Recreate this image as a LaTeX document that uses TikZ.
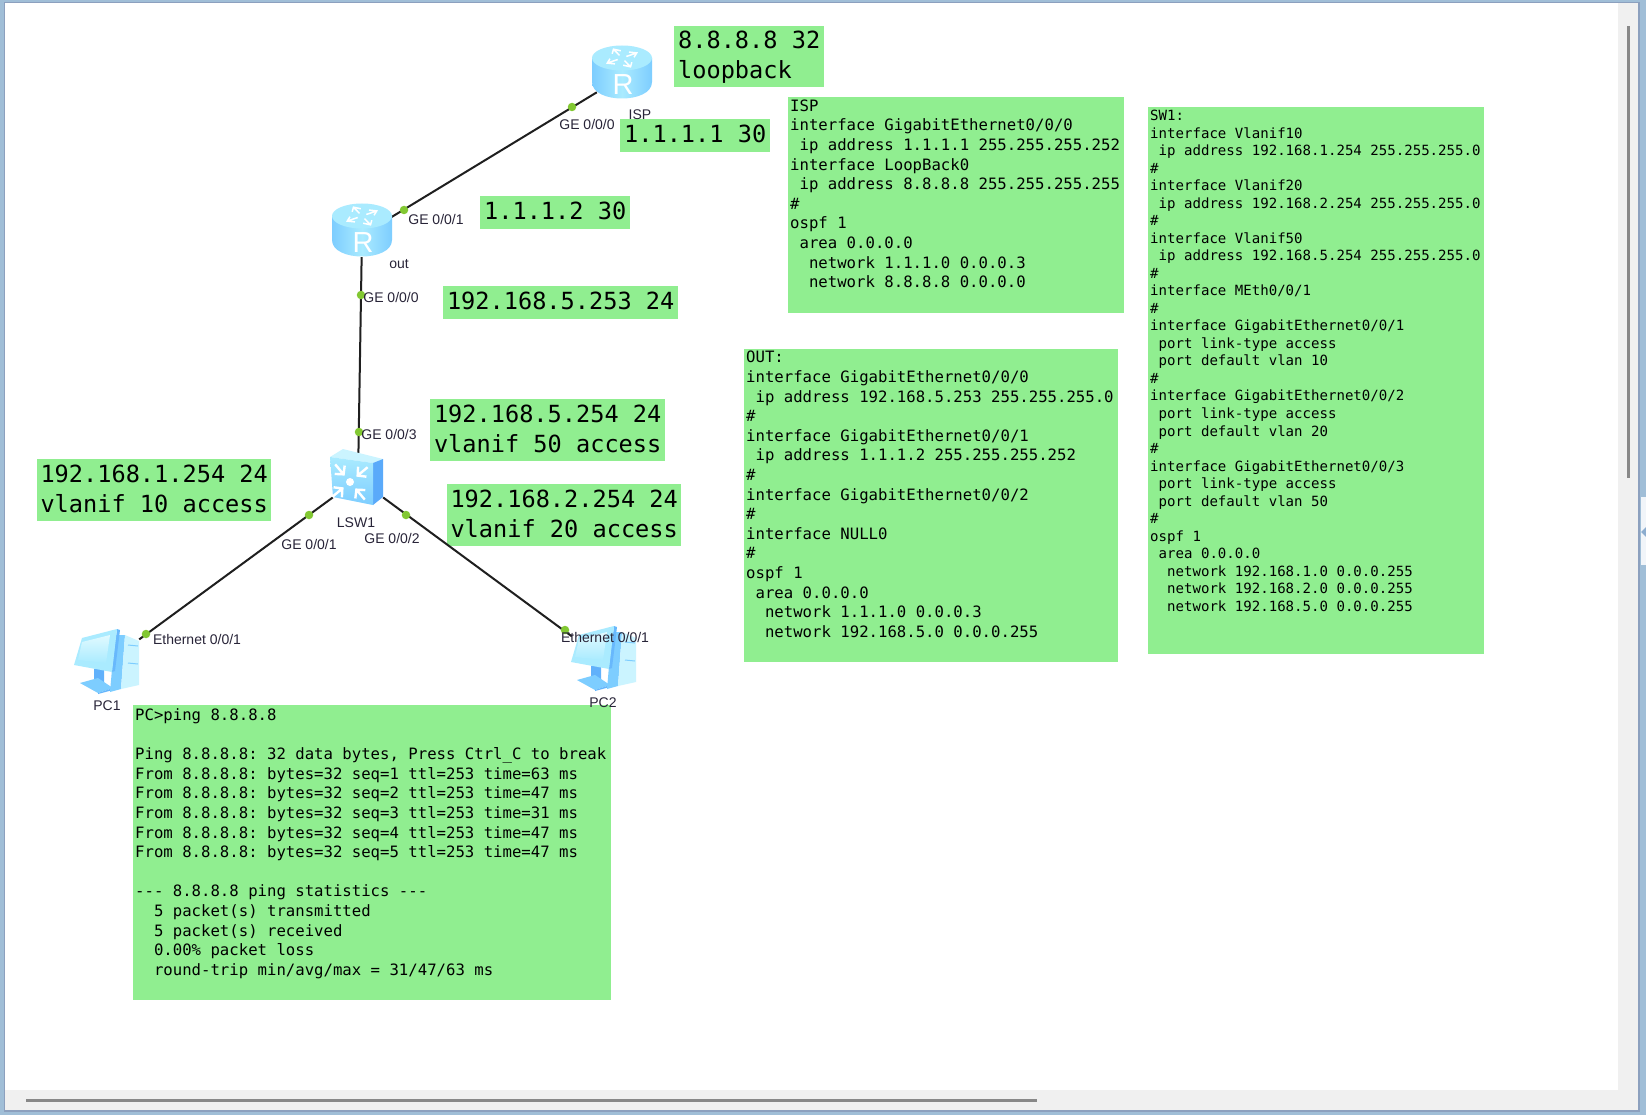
\documentclass[tikz,border=0pt]{standalone}
\usepackage{fontspec}
\setmainfont{Liberation Sans}
\setmonofont{DejaVu Sans Mono}
\usetikzlibrary{positioning, shadings}
\definecolor{ensA}{RGB}{144,238,144}
\definecolor{ensFrame}{RGB}{160,190,215}
\definecolor{ensEdge}{RGB}{140,160,190}
\definecolor{ensBar}{RGB}{240,240,240}
\definecolor{ensThumb}{RGB}{136,136,136}
\definecolor{ensPort}{RGB}{130,200,50}
\definecolor{ensB}{RGB}{125,205,255}
\definecolor{ensC}{RGB}{170,235,255}
\definecolor{ensD}{RGB}{90,170,250}
\definecolor{ensE}{RGB}{225,250,255}
\definecolor{ensLab}{RGB}{40,36,56}
\newcommand{\cfgpar}[3]{\parbox[t][#2pt][t]{#1pt}{#3}}
\newcommand{\ind}[1]{\hspace*{#1\fontcharwd\font`0}}
\tikzset{
  routericon/.pic={
    \shade[left color=ensB, right color=ensB, middle color=ensC]
      (-30,-14) -- (-30,10) .. controls (-30,32) and (30,32) .. (30,10) -- (30,-14) -- cycle;
    \fill[ensC] (0,-14) ellipse [x radius=30pt, y radius=12.5pt];
    \foreach \a in {30,120,210,300}
      \draw[white, line width=1.5pt, shift={(0,-14)}, yscale=0.6, rotate=\a] (5,0) -- (17,0) (11,-5) -- (17,0) -- (11,5);
    \node[white, font=\fontsize{29}{29}\selectfont, inner sep=0pt] (-glyph) at (1,13) {R};
  },
  switchicon/.pic={
    \fill[ensE!60!ensC] (-26,-21) -- (-13,-29) -- (27,-19) -- (17,-15) -- cycle;
    \fill[ensD] (17,-15) -- (27,-19) -- (27,19) -- (17,27) -- cycle;
    \shade[top color=ensC, bottom color=ensB] (-26,-21) -- (17,-15) -- (17,27) -- (-23,19) -- cycle;
    \fill[white] (-6,4) circle [radius=4pt];
    \foreach \a in {40,130,220,310}
      \draw[white, line width=2.4pt, shift={(-6,4)}, rotate=\a] (23,0) -- (10,0) (16,-6.5) -- (10,0) -- (16,6.5);
  },
  pcicon/.pic={
    \fill[ensD!80!ensB] (-13,8) -- (-3,8) -- (-3,22) -- (-13,21) -- cycle;
    \fill[ensB] (-27,22) -- (-9,17) -- (6,27) -- (-9,32) -- cycle;
    \fill[ensD!70!ensB] (-9,32) -- (6,27) -- (6,29) -- (-9,33) -- cycle;
    \fill[ensB] (8,-26) -- (18,-26) -- (14,28) -- (3,31) -- cycle;
    \fill[ensE!60!ensC] (18,-26) -- (32,-20) -- (32,24) -- (14,28) -- cycle;
    \draw[ensB, line width=1pt] (21,-16) -- (31,-15) (21,2) -- (31,3);
    \fill[ensD!60!ensB] (10,-32) -- (13,-31) -- (8,10) -- (5,11) -- cycle;
    \fill[ensC] (-25,-23) -- (10,-32) -- (5,11) -- (-33,4) -- cycle;
    \shade[top color=ensE, bottom color=ensC] (-25,-19) -- (3,-26) -- (-1,2) -- (-29,-1) -- cycle;
  }
}
\begin{document}
\begin{tikzpicture}[
    x=1pt, y=-1pt,
    netnode/.style={minimum width=50pt, minimum height=44pt, inner sep=0pt},
    link/.style={line width=2pt, black!88},
    port/.style={circle, fill=ensPort, inner sep=0pt, minimum size=8.5pt},
    lab/.style={font=\fontsize{14}{14}\selectfont, text=ensLab, inner sep=0pt},
    bigbox/.style={fill=ensA, anchor=north west, inner sep=0pt, align=left, text depth=3pt, font=\ttfamily\fontsize{23.6}{30}\selectfont},
    cfgbox/.style={fill=ensA, anchor=north west, inner sep=2pt, font=\ttfamily\fontsize{15.65}{19.6}\selectfont}
  ]
  \useasboundingbox (0,0) rectangle (1646,1115);
  % window
  \fill[ensFrame] (0,0) rectangle (1646,1115);
  \fill[ensEdge] (4,2) rectangle (1640,1112);
  \fill[ensBar] (5,3) rectangle (1638,1110);
  \fill[white] (5,3) rectangle (1618,1090);
  \fill[ensThumb] (26,1098.5) rectangle (1037,1101.5);
  \fill[ensThumb] (1626.5,26) rectangle (1629.5,478);
  \fill[white!85!ensFrame] (1641,497) rectangle (1646,565);
  \fill[ensD!70!black!60] (1641,532) -- (1646,527) -- (1646,537) -- cycle;

  % address notes
  \node[bigbox, minimum width=150pt, minimum height=61pt] (bLoop) at (674,26) {8.8.8.8 32\\loopback};
  \node[bigbox, minimum width=150pt, minimum height=33pt] (bIsp) at (620,119) {1.1.1.1 30};
  \node[bigbox, minimum width=150pt, minimum height=33pt] (bOutA) at (480,196) {1.1.1.2 30};
  \node[bigbox, minimum width=235pt, minimum height=33pt] (bOutB) at (443,286) {192.168.5.253 24};
  \node[bigbox, minimum width=235pt, minimum height=62pt] (bVfifty) at (430,399) {192.168.5.254 24\\vlanif 50 access};
  \node[bigbox, minimum width=234pt, minimum height=62pt] (bVten) at (37,459) {192.168.1.254 24\\vlanif 10 access};
  \node[bigbox, minimum width=234pt, minimum height=62pt] (bVtwenty) at (447,484) {192.168.2.254 24\\vlanif 20 access};

  % device configs
  \node[cfgbox] (cISP) at (788,97) {\cfgpar{332}{212}{\vspace*{0.5pt}ISP\\
interface GigabitEthernet0/0/0\\
\ind{1}ip address 1.1.1.1 255.255.255.252\\
interface LoopBack0\\
\ind{1}ip address 8.8.8.8 255.255.255.255\\
\#\\
ospf 1\\
\ind{1}area 0.0.0.0\\
\ind{2}network 1.1.1.0 0.0.0.3\\
\ind{2}network 8.8.8.8 0.0.0.0}};
  \node[cfgbox] (cOUT) at (744,349) {\cfgpar{370}{309}{OUT:\\
interface GigabitEthernet0/0/0\\
\ind{1}ip address 192.168.5.253 255.255.255.0\\
\#\\
interface GigabitEthernet0/0/1\\
\ind{1}ip address 1.1.1.2 255.255.255.252\\
\#\\
interface GigabitEthernet0/0/2\\
\#\\
interface NULL0\\
\#\\
ospf 1\\
\ind{1}area 0.0.0.0\\
\ind{2}network 1.1.1.0 0.0.0.3\\
\ind{2}network 192.168.5.0 0.0.0.255}};
  \node[cfgbox, font=\ttfamily\fontsize{14.07}{17.52}\selectfont] (cSW) at (1148,107) {\cfgpar{332}{543}{\vspace*{1pt}SW1:\\
interface Vlanif10\\
\ind{1}ip address 192.168.1.254 255.255.255.0\\
\#\\
interface Vlanif20\\
\ind{1}ip address 192.168.2.254 255.255.255.0\\
\#\\
interface Vlanif50\\
\ind{1}ip address 192.168.5.254 255.255.255.0\\
\#\\
interface MEth0/0/1\\
\#\\
interface GigabitEthernet0/0/1\\
\ind{1}port link-type access\\
\ind{1}port default vlan 10\\
\#\\
interface GigabitEthernet0/0/2\\
\ind{1}port link-type access\\
\ind{1}port default vlan 20\\
\#\\
interface GigabitEthernet0/0/3\\
\ind{1}port link-type access\\
\ind{1}port default vlan 50\\
\#\\
ospf 1\\
\ind{1}area 0.0.0.0\\
\ind{2}network 192.168.1.0 0.0.0.255\\
\ind{2}network 192.168.2.0 0.0.0.255\\
\ind{2}network 192.168.5.0 0.0.0.255}};
  \node[cfgbox] (cPing) at (133,705) {\cfgpar{474}{291}{\vspace*{1.5pt}PC>ping 8.8.8.8\\
\mbox{}\\
Ping 8.8.8.8: 32 data bytes, Press Ctrl\_C to break\\
From 8.8.8.8: bytes=32 seq=1 ttl=253 time=63 ms\\
From 8.8.8.8: bytes=32 seq=2 ttl=253 time=47 ms\\
From 8.8.8.8: bytes=32 seq=3 ttl=253 time=31 ms\\
From 8.8.8.8: bytes=32 seq=4 ttl=253 time=47 ms\\
From 8.8.8.8: bytes=32 seq=5 ttl=253 time=47 ms\\
\mbox{}\\
--- 8.8.8.8 ping statistics ---\\
\ind{2}5 packet(s) transmitted\\
\ind{2}5 packet(s) received\\
\ind{2}0.00\% packet loss\\
\ind{2}round-trip min/avg/max = 31/47/63 ms}};

  % devices
  \node[netnode] (ISP) at (622,77) {};
  \node[netnode] (out) at (362,235) {};
  \node[netnode, minimum height=52pt] (LSW1) at (358,479) {};
  \node[netnode, minimum width=64pt, minimum height=56pt] (PC1) at (107,663) {};
  \node[netnode, minimum width=64pt, minimum height=56pt] (PC2) at (604,660) {};
  \draw[link] (ISP) -- (out);
  \draw[link] (out) -- (LSW1);
  \draw[link] (LSW1) -- (PC1);
  \draw[link] (LSW1) -- (PC2);
  \pic (ispicon) at (622,72) {routericon};
  \pic (outicon) at (362,230) {routericon};
  \pic (lswicon) at (356,478) {switchicon};
  \pic (pconeicon) at (107,661) {pcicon};
  \pic (pctwoicon) at (604,658) {pcicon};

  % interface dots
  \foreach \i/\x/\y in {1/572/107, 2/404/210, 3/361/295, 4/359/432, 5/309/515, 6/406/515, 7/146/634, 8/565/630}
    \node[port] (p\i) at (\x,\y) {};

  % device and interface names
  \node[lab] (nISP) at (640,115) {ISP};
  \node[lab] (nout) at (399,264) {out};
  \node[lab] (nLSW) at (356,523) {LSW1};
  \node[lab] (nPCa) at (107,706) {PC1};
  \node[lab] (nPCb) at (603,703) {PC2};
  \foreach \i/\x/\y/\t in {1/587/124/{GE 0/0/0}, 2/436/219/{GE 0/0/1}, 3/391/297/{GE 0/0/0}, 4/389/434/{GE 0/0/3},
      5/309/544/{GE 0/0/1}, 6/392/538/{GE 0/0/2}, 7/197/639/{Ethernet 0/0/1}, 8/605/637/{Ethernet 0/0/1}}
    \node[lab] (t\i) at (\x,\y) {\t};
\end{tikzpicture}
\end{document}
